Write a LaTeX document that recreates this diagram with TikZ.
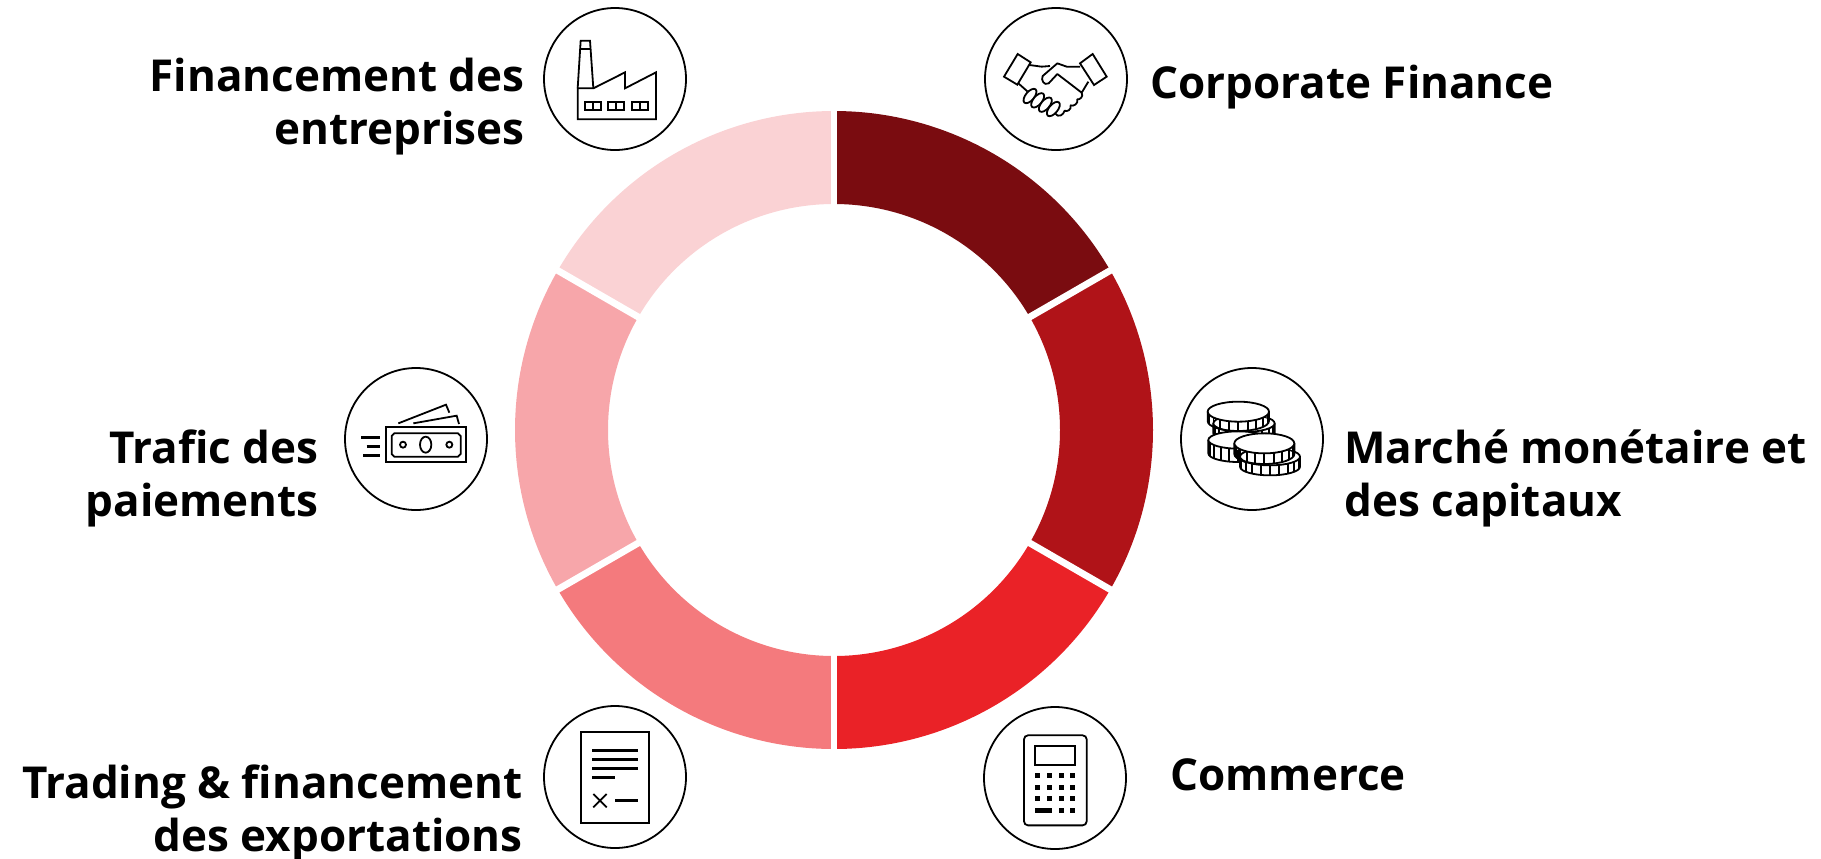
\documentclass[tikz,border=0pt]{standalone}
\usepackage{fontspec}
\setmainfont{Open Sans}
\newcommand{\annular}[3]{\fill[#3] (#1:319) arc[start angle=#1,end angle=#2,radius=319] -- (#2:226) arc[start angle=#2,end angle=#1,radius=226] -- cycle;}
\newcommand{\coin}[5]{% cx cy rx ry h
  \begin{scope}[shift={(#1,#2)}]
    \fill[white] (-#3,0) arc[start angle=180,end angle=360,x radius=#3,y radius=#4] -- ++(0,#5) arc[start angle=0,end angle=-180,x radius=#3,y radius=#4] -- cycle;
    \draw[iconline] (-#3,0) -- ++(0,#5) arc[start angle=180,end angle=360,x radius=#3,y radius=-#4] -- ++(0,-#5);
    \foreach \t in {-72,-54,-36,-18,0,18,36,54,72} {
      \pgfmathsetmacro{\xx}{#3*sin(\t)}\pgfmathsetmacro{\yy}{#4*cos(\t)}
      \draw[iconline] (\xx,\yy) -- ++(0,#5);
    }
    \draw[iconline,fill=white] (0,0) ellipse[x radius=#3,y radius=#4];
  \end{scope}}
\tikzset{
  x=0.5pt,y=-0.5pt,
  ring/.style={draw=black,line width=0.9pt,fill=white},
  iconline/.style={draw=black,line width=0.9pt,line join=miter},
  thick icon/.style={draw=black,line width=1.35pt},
  labelr/.style={anchor=east,align=right,inner sep=0pt,font=\fontsize{22}{26.5}\selectfont\bfseries},
  labell/.style={anchor=west,align=left,inner sep=0pt,font=\fontsize{22}{26.5}\selectfont\bfseries},
  zoomed/.style={x=0.16667pt,y=-0.16667pt},
  seplineb/.style={draw=white,line width=3.4pt}
}
\definecolor{segA}{HTML}{7A0C10}
\definecolor{segB}{HTML}{B01318}
\definecolor{segC}{HTML}{EA2227}
\definecolor{segD}{HTML}{F47A7D}
\definecolor{segE}{HTML}{F7A6AA}
\definecolor{segF}{HTML}{FAD2D4}
\begin{document}
\begin{tikzpicture}
\useasboundingbox (0,0) rectangle (1821,858);
% ring
\begin{scope}[shift={(834,430)},x=0.5pt,y=0.5pt]
  \annular{30}{90}{segA}
  \annular{-30}{30}{segB}
  \annular{-90}{-30}{segC}
  \annular{-150}{-90}{segD}
  \annular{150}{210}{segE}
  \annular{90}{150}{segF}
  \foreach \a in {90,30,-30,-90,-150,150} \draw[seplineb] (\a:215) -- (\a:330);
\end{scope}
% circles
\node[ring,circle,minimum size=71pt,inner sep=0pt] (cFactory) at (615,79) {};
\node[ring,circle,minimum size=71pt,inner sep=0pt] (cHands) at (1056,79) {};
\node[ring,circle,minimum size=71pt,inner sep=0pt] (cCoins) at (1252,439) {};
\node[ring,circle,minimum size=71pt,inner sep=0pt] (cCalc) at (1055,778) {};
\node[ring,circle,minimum size=71pt,inner sep=0pt] (cDoc) at (615,777) {};
\node[ring,circle,minimum size=71pt,inner sep=0pt] (cMoney) at (416,439) {};
% factory
\begin{scope}[shift={(530,0)},zoomed]
  \draw[iconline] (143,265) -- (143,358) -- (378,358) -- (378,217) -- (285,265) -- (285,217) -- (190,265) -- cycle;
  \draw[iconline] (143,265) -- (152,122) -- (180,122) -- (190,265);
  \draw[iconline] (151,147) -- (182,147);
  \foreach \o in {165,235,305} {
    \draw[iconline] (\o,305) rectangle ++(48,25);
    \draw[iconline] (\o+24,305) -- ++(0,25);
  }
\end{scope}
% handshake
\begin{scope}[shift={(970,0)},zoomed]
  \draw[iconline] (143,162) -- (182,187) -- (142,254) -- (102,230) -- cycle;
  \draw[iconline] (368,162) -- (330,190) -- (372,255) -- (410,230) -- cycle;
  \draw[iconline,line join=round] (178,195) -- (215,200) -- (240,198);
  \draw[iconline,line join=round] (330,200) -- (290,200) -- (262,190) -- (218,228)
     .. controls (212,240) and (222,258) .. (236,250) -- (262,222) -- (335,278) -- (355,245);
  \draw[iconline] (145,250) -- (172,274);
  \foreach \p in {(180,288),(203,301),(226,314),(250,327)}
    \draw[iconline,fill=white,rotate around={50:\p}] \p ellipse[x radius=26,y radius=13];
  \draw[iconline,line join=round] (335,278) .. controls (342,290) and (328,300) .. (322,298)
     .. controls (325,312) and (310,320) .. (302,316)
     .. controls (305,330) and (290,336) .. (284,332)
     .. controls (280,345) and (265,355) .. (255,340);
\end{scope}
% coins
\begin{scope}[shift={(1170,360)},zoomed]
  \coin{222}{190}{92}{26}{30}
  \coin{205}{240}{90}{26}{40}
  \coin{205}{155}{92}{30}{28}
  \coin{300}{290}{90}{26}{30}
  \coin{283}{250}{90}{30}{32}
\end{scope}
% calculator
\begin{scope}[shift={(970,698)},zoomed]
  \draw[iconline,rounded corners=2pt] (162,112) rectangle (350,382);
  \draw[iconline] (195,143) rectangle (316,200);
  \foreach \kx in {203,238,274,307} \foreach \ky in {232,268,301}
    \fill (\kx-7.5,\ky-7.5) rectangle ++(15,15);
  \fill (195,330) rectangle (245,344);
  \foreach \kx in {274,307} \fill (\kx-7.5,330) rectangle ++(15,14);
\end{scope}
% document
\begin{scope}[shift={(530,698)},zoomed]
  \draw[iconline] (153,102) rectangle (357,374);
  \foreach \ly in {157,184,211} \draw[thick icon] (187,\ly) -- (324,\ly);
  \draw[thick icon] (187,238) -- (255,238);
  \draw[iconline] (190,288) -- (230,328);
  \draw[iconline] (190,328) -- (230,288);
  \draw[thick icon] (255,307) -- (324,307);
\end{scope}
% money
\begin{scope}[shift={(335,360)},zoomed]
  \draw[iconline] (153,202) rectangle (393,307);
  \draw[iconline] (178,220) -- (369,220) -- (377,228) -- (377,282) -- (369,290) -- (178,290) -- (170,282) -- (170,228) -- cycle;
  \draw[iconline] (204,254) circle[radius=9];
  \draw[iconline] (343,254) circle[radius=9];
  \draw[iconline] (272,254) ellipse[x radius=17,y radius=24];
  \draw[thick icon] (78,232) -- (134,232);
  \draw[thick icon] (95,259) -- (134,259);
  \draw[thick icon] (84,286) -- (134,286);
  \draw[iconline] (190,190) -- (333,134) -- (343,158);
  \draw[iconline] (235,190) -- (365,167) -- (372,192);
\end{scope}
% labels
\node[labelr] (tFactory) at (525,107) {Financement des\\entreprises};
\node[labell] (tHands) at (1150,87) {Corporate Finance};
\node[labell] (tCoins) at (1344,478) {Marché monétaire et\\des capitaux};
\node[labell] (tCalc) at (1170,775) {Commerce};
\node[labelr] (tDoc) at (523,813) {Trading \& financement\\des exportations};
\node[labelr] (tMoney) at (319,478) {Trafic des\\paiements};
\end{tikzpicture}
\end{document}
